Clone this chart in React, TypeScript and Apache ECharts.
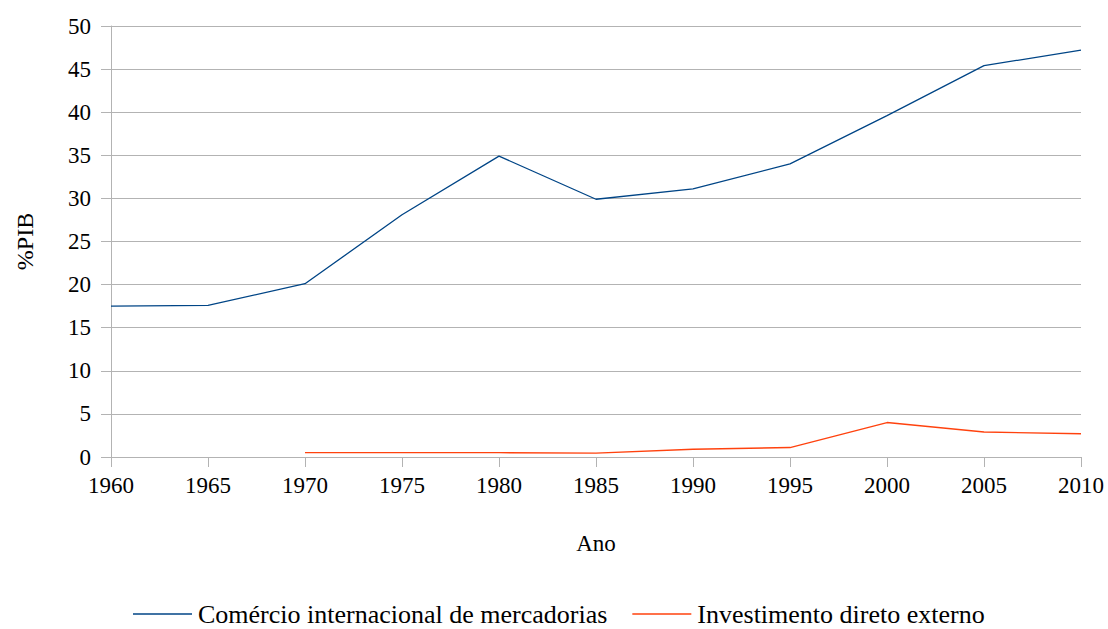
import React, { useEffect, useRef } from "react";
import * as echarts from "echarts";

const years = ["1960", "1965", "1970", "1975", "1980", "1985", "1990", "1995", "2000", "2005", "2010"];
const comercio = [17.5, 17.6, 20.1, 28.1, 34.9, 29.9, 31.1, 34.0, 39.6, 45.4, 47.2];
const investimento = [null, null, 0.5, 0.5, 0.5, 0.45, 0.9, 1.1, 4.0, 2.9, 2.7];
const seriesNames = ["Comércio internacional de mercadorias", "Investimento direto externo"];

const FONT = "Liberation Serif";

export default function App() {
  const ref = useRef<HTMLDivElement>(null);
  useEffect(() => {
    if (!ref.current) return;
    const chart = echarts.init(ref.current, null, { renderer: "svg" });
    chart.setOption({
      animation: false,
      backgroundColor: "#ffffff",
      textStyle: { fontFamily: FONT, color: "#000" },
      grid: { left: 111, right: 27, top: 26, bottom: 172, containLabel: false },
      legend: {
        left: 133,
        top: 601,
        padding: 0,
        icon: "rect",
        itemWidth: 59,
        itemHeight: 1.5,
        itemGap: 25,
        textStyle: { fontFamily: FONT, fontSize: 26, color: "#000", padding: [0, 0, 0, 1] },
        data: seriesNames,
      },
      xAxis: {
        type: "category",
        data: years,
        boundaryGap: false,
        name: "Ano",
        nameLocation: "middle",
        nameGap: 75,
        nameTextStyle: { fontFamily: FONT, fontSize: 23, color: "#000" },
        axisLine: { lineStyle: { color: "#b3b3b3", width: 1 } },
        axisTick: { show: true, length: 10, lineStyle: { color: "#b3b3b3" }, alignWithLabel: true },
        axisLabel: { fontFamily: FONT, fontSize: 23, color: "#000", margin: 17 },
        splitLine: { show: false },
      },
      yAxis: {
        type: "value",
        min: 0,
        max: 50,
        interval: 5,
        name: "%PIB",
        nameLocation: "middle",
        nameGap: 74,
        nameRotate: 90,
        nameTextStyle: { fontFamily: FONT, fontSize: 24, color: "#000" },
        axisLine: { show: true, lineStyle: { color: "#b3b3b3", width: 1 } },
        axisTick: { show: true, length: 10, lineStyle: { color: "#b3b3b3" } },
        axisLabel: { fontFamily: FONT, fontSize: 23, color: "#000", margin: 20 },
        splitLine: { show: true, lineStyle: { color: "#b3b3b3", width: 1 } },
      },
      series: [
        {
          name: seriesNames[0],
          type: "line",
          data: comercio,
          symbol: "none",
          lineStyle: { color: "#004586", width: 1.3 },
          itemStyle: { color: "#004586" },
        },
        {
          name: seriesNames[1],
          type: "line",
          data: investimento,
          symbol: "none",
          connectNulls: false,
          lineStyle: { color: "#ff420e", width: 1.3 },
          itemStyle: { color: "#ff420e" },
        },
      ],
    });
    return () => chart.dispose();
  }, []);
  return (
    <div
      ref={ref}
      style={{ position: "absolute", left: 0, top: 0, width: 1108, height: 629 }}
    />
  );
}
